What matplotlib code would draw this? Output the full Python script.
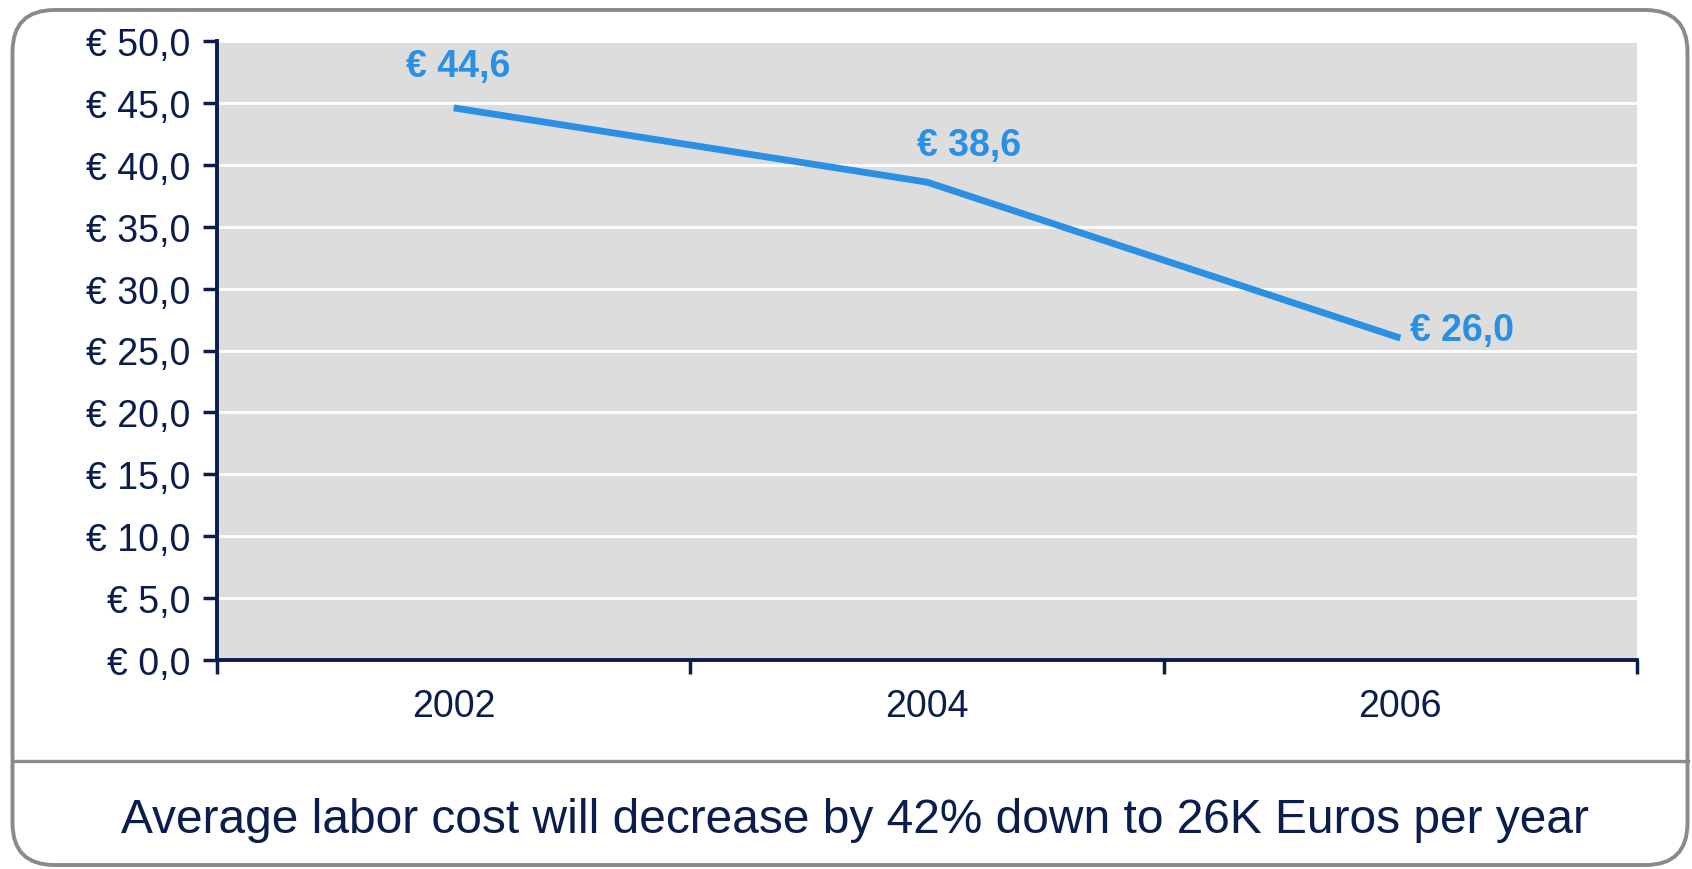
import matplotlib
matplotlib.use("Agg")
import matplotlib.pyplot as plt
from matplotlib.patches import FancyBboxPatch
from matplotlib.lines import Line2D
from matplotlib.ticker import FixedLocator

plt.rcParams['font.family'] = ['Liberation Sans', 'DejaVu Sans']

# ---- data ----
years = ["2002", "2004", "2006"]
labor_cost = [44.6, 38.6, 26.0]
value_labels = ["€ 44,6", "€ 38,6", "€ 26,0"]
y_ticks = [0, 5, 10, 15, 20, 25, 30, 35, 40, 45, 50]
y_tick_labels = ["€ " + f"{v:.1f}".replace(".", ",") for v in y_ticks]
caption = "Average labor cost will decrease by 42% down to 26K Euros per year"

NAVY = "#0A1D4C"
BLUE = "#2B8FE3"
GRID_BG = "#DDDDDD"
BORDER = "#8A8A8A"

W, H, DPI = 1692, 870, 100
fig = plt.figure(figsize=(W / DPI, H / DPI), dpi=DPI)
fig.patch.set_facecolor("white")

left, right, top, bottom = 217, 1637, 42, 661
ax = fig.add_axes([left / W, 1 - bottom / H, (right - left) / W, (bottom - top) / H])
ax.set_facecolor(GRID_BG)

x = list(range(len(years)))
ax.plot(x, labor_cost, color=BLUE, lw=4.9, solid_capstyle="butt",
        solid_joinstyle="miter", zorder=3)

ax.set_xlim(-0.5, len(years) - 0.5)
ax.set_ylim(0, 50)

# y axis
ax.yaxis.set_major_locator(FixedLocator(y_ticks))
ax.set_yticklabels(y_tick_labels)
ax.tick_params(axis="y", direction="out", length=10, width=2.5, color=NAVY,
               labelsize=27, labelcolor=NAVY, pad=9)
ax.grid(axis="y", color="white", lw=2, zorder=1)
ax.set_axisbelow(True)

# x axis: ticks at category boundaries, labels at centres
ax.xaxis.set_major_locator(FixedLocator([i - 0.5 for i in range(len(years) + 1)]))
ax.xaxis.set_minor_locator(FixedLocator(x))
ax.set_xticklabels([""] * (len(years) + 1))
ax.set_xticklabels(years, minor=True)
ax.tick_params(axis="x", which="major", direction="out", length=10, width=2.5, color=NAVY)
ax.tick_params(axis="x", which="minor", length=0, labelsize=27, labelcolor=NAVY, pad=20)

for side in ["top", "right"]:
    ax.spines[side].set_visible(False)
for side in ["left", "bottom"]:
    ax.spines[side].set_color(NAVY)
    ax.spines[side].set_linewidth(2.8)

# value labels
offsets = [((3, 30), "center", "center"),
           ((30, 27), "center", "center"),
           ((7, 6), "left", "center")]
for xi, v, lab, (off, ha, va) in zip(x, labor_cost, value_labels, offsets):
    ax.annotate(lab, (xi, v), xytext=off, textcoords="offset points",
                ha=ha, va=va, fontsize=27, fontweight="bold", color=BLUE, zorder=4)

# frame with rounded corners
frame = FancyBboxPatch((0.125, 0.04), 16.75, 8.55,
                       boxstyle="round,pad=0,rounding_size=0.42",
                       transform=fig.dpi_scale_trans, facecolor="none",
                       edgecolor=BORDER, lw=2.8, zorder=0)
fig.add_artist(frame)
divider = Line2D([0.125, 16.875], [(H - 762) / DPI] * 2, transform=fig.dpi_scale_trans,
                 color=BORDER, lw=2.4)
fig.add_artist(divider)

fig.text(855 / W, (H - 833) / H, caption, ha="center", va="baseline",
         fontsize=34.5, color=NAVY)

fig.savefig("out.png", dpi=DPI)
